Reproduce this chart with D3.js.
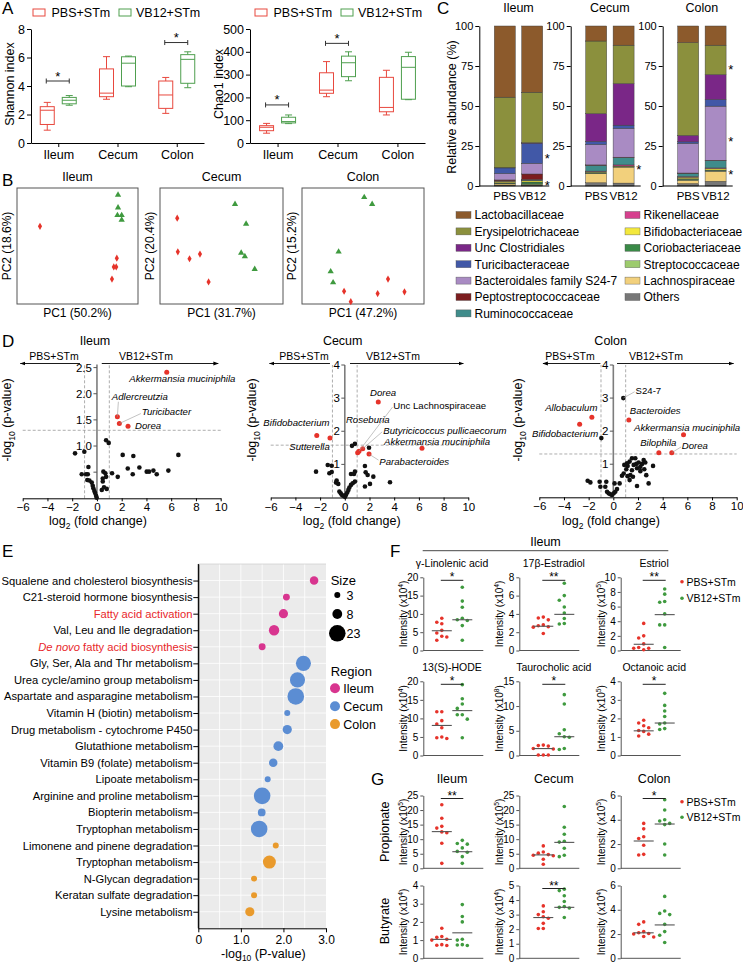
<!DOCTYPE html>
<html><head><meta charset="utf-8">
<script src="https://cdnjs.cloudflare.com/ajax/libs/d3/7.8.5/d3.min.js"></script>
<style>html,body{margin:0;padding:0;background:#fff;} svg{display:block;}</style>
</head><body>
<svg id="fig" width="743" height="964" xmlns="http://www.w3.org/2000/svg"></svg>
<script>
const FONT = '"Liberation Sans", Arial, Helvetica, sans-serif';
// ================= DATA =================
// ---- A: alpha diversity, box stats [min, q1, median, q3, max]
const regions = ["Ileum", "Cecum", "Colon"];
const groupNames = ["PBS+STm", "VB12+STm"];
const shannonPBS  = [[0.9,1.3,2.3,2.55,2.85],[3.07,3.25,3.5,5.2,6.06],[2.08,2.43,3.37,4.35,4.6]];
const shannonVB12 = [[2.65,2.75,3.0,3.2,3.33],[3.95,4.0,5.6,6.05,6.1],[3.88,4.19,5.87,6.2,6.4]];
const shannonTicks = [0,2,4,6,8];
const shannonSig = [["Ileum",4.35],["Colon",7.05]];
const chaoPBS  = [[43,54,69,76,86],[203,218,232,308,357],[123,137,156,288,319]];
const chaoVB12 = [[85,88,94,113,123],[273,291,352,381,400],[190,192,332,379,398]];
const chaoTicks = [0,100,200,300,400,500];
const chaoSig = [["Ileum",167],["Cecum",437]];

// ---- B: PCA scores [PC1, PC2]
const pcaTitles = ["Ileum","Cecum","Colon"];
const pcaPC1 = ["PC1 (50.2%)","PC1 (31.7%)","PC1 (47.2%)"];
const pcaPC2 = ["PC2 (18.6%)","PC2 (20.4%)","PC2 (15.2%)"];
const pcaIleumPBS  = [[-0.62,0.34],[0.65,-0.21],[0.60,-0.36],[0.64,-0.36],[0.57,-0.57]];
const pcaIleumVB12 = [[0.67,0.88],[0.67,0.66],[0.66,0.53],[0.73,0.53],[0.73,0.45]];
const pcaCecumPBS  = [[-0.72,0.48],[-0.71,-0.10],[-0.52,-0.22],[-0.35,-0.14],[-0.21,-0.62]];
const pcaCecumVB12 = [[0.22,0.72],[0.40,0.38],[0.32,-0.12],[0.38,-0.18],[0.54,-0.40]];
const pcaColonPBS  = [[0.41,-0.57],[0.68,-0.79],[0.24,-0.82],[-0.31,-0.78],[-0.20,-0.96]];
const pcaColonVB12 = [[0.02,0.84],[0.15,0.72],[-0.40,-0.10],[-0.53,-0.44],[-0.49,-0.63]];

// ---- C: relative abundance (%), families in legend order
const families = ["Lactobacillaceae","Erysipelotrichaceae","Unc Clostridiales","Turicibacteraceae",
  "Bacteroidales family S24-7","Peptostreptococcaceae","Ruminococcaceae","Rikenellaceae",
  "Bifidobacteriaceae","Coriobacteriaceae","Streptococcaceae","Lachnospiraceae","Others"];
const familyColors = ["#8c5a2c","#8b903d","#7a2787","#4158a7","#a98bc3","#7c1d1f","#3f8c8b",
  "#d6408e","#f3e83c","#3a8a47","#9dcb6d","#f2d07c","#777777"];
const abIleumPBS  = [44.5,44,0.2,3.5,4.0,0.5,0.2,0.1,1.0,0.4,0.3,0.8,0.5];
const abIleumVB12 = [41.4,31.6,0.3,12.5,6.7,3.5,0.5,0.2,0.8,1.2,0.5,0.3,0.5];
const abCecumPBS  = [9.4,45.4,17.3,2,12.7,0.3,3.6,0.3,0.5,0.5,0.3,5.7,2];
const abCecumVB12 = [12,24,26,2,18,0.3,4.5,0.7,0.3,0.2,0.2,10,1.8];
const abColonPBS  = [10.4,58,4,1,18.5,0.2,2,0.4,1,0.5,0.5,2,1.5];
const abColonVB12 = [12,18.4,15.5,4.2,33.8,0.3,4.5,0.3,1,0.3,0.5,6.3,2.9];
const abStarsIleum = [19, 2.5], abStarsCecum = [12.5], abStarsColon = [75, 30, 9];
const abTicks = [0,25,50,75,100];

// ---- D: volcano [log2FC, -log10 p]
const ileumNS = [[-1.77,0.86],[-1.02,0.89],[-0.69,0.60],[-1.23,0.46],[-0.88,0.46],[-0.74,0.46],[-0.78,0.35],[-0.61,0.34],[-0.42,0.30],[-0.34,0.24],[-0.29,0.19],[-0.21,0.14],[-0.15,0.10],[-0.07,0.05],[-0.02,0.01],[0.74,1.11],[0.95,1.06],[0.52,0.51],[0.68,0.48],[0.74,0.41],[0.47,0.38],[0.47,0.32],[0.39,0.16],[0.57,0.21],[0.79,0.18],[1.22,0.48],[1.68,0.41],[2.08,0.83],[2.49,0.57],[2.94,0.81],[3.43,0.59],[2.89,0.46],[4.02,0.51],[4.21,0.51],[4.56,0.53],[4.83,0.46],[5.77,0.53],[6.58,0.83]];
const ileumSig = [["Akkermansia muciniphila",5.64,2.41],["Adlercreutzia",1.65,1.56],["Turicibacter",1.81,1.43],["Dorea",2.51,1.38]];
const cecumNS = [[-2.33,0.78],[-1.38,0.98],[-1.06,0.96],[-1.25,0.73],[-1.06,0.77],[-0.66,0.51],[-0.53,0.41],[-0.71,0.45],[-0.44,0.18],[-0.33,0.13],[-0.25,0.08],[-0.12,0.05],[0.02,0.02],[0.10,0.08],[0.20,0.15],[0.29,0.23],[0.37,0.30],[0.50,0.38],[0.64,0.43],[0.82,0.48],[0.50,0.71],[0.74,0.71],[0.82,0.78],[0.58,1.56],[0.82,1.62],[1.96,1.50],[1.63,0.95],[1.69,0.76],[1.85,0.68],[2.31,0.63],[2.04,0.41],[1.63,0.33],[3.66,0.46]];
const cecumSig = [["Dorea",2.71,2.88],["Unc Lachnospiraceae",1.15,1.40],["Roseburia",1.04,1.35],["Butyricicoccus pullicaecorum",1.45,1.47],["Akkermansia muciniphila",6.25,1.49],["Bifidobacterium",-2.27,1.87],["Sutterella",-1.20,1.80],["Parabacteroides",1.96,1.31]];
const colonNS = [[-0.97,1.79],[-2.08,0.50],[-1.86,0.45],[-1.11,0.47],[-0.57,0.47],[-1.05,0.32],[-0.65,0.32],[-0.51,0.17],[-0.38,0.12],[-0.24,0.09],[-0.11,0.07],[0.03,0.12],[0.16,0.17],[0.30,0.25],[0.10,0.42],[0.51,0.42],[0.70,0.65],[0.84,0.72],[1.05,0.85],[1.16,0.95],[1.32,1.08],[1.51,1.18],[1.16,0.64],[1.38,0.67],[1.32,0.52],[1.51,0.82],[1.65,0.98],[1.86,1.01],[2.05,1.05],[1.92,0.88],[2.19,0.92],[2.33,1.01],[2.46,1.13],[2.59,1.05],[2.19,0.79],[2.51,0.85],[2.67,0.67],[2.86,0.42],[3.22,0.95],[1.92,0.34],[1.59,0.62],[1.11,1.03],[1.78,1.18],[0.89,0.98]];
const colonSig = [["Allobaculum",-1.74,2.42],["Bifidobacterium",-2.73,2.21],["Bacteroides",1.26,2.34],["Akkermansia muciniphila",5.69,1.89],["Bilophila",3.69,1.35],["Dorea",4.74,1.35]];
const colonNamedNS = [["S24-7",0.81,3.00]];
const volcanoXTicks = [-6,-4,-2,0,2,4,6,8,10];

// ---- E: pathway enrichment
const pathways = ["Squalene and cholesterol biosynthesis","C21-steroid hormone biosynthesis","Fatty acid activation",
  "Val, Leu and Ile degradation","De novo fatty acid biosynthesis","Gly, Ser, Ala and Thr metabolism",
  "Urea cycle/amino group metabolism","Aspartate and asparagine metabolism","Vitamin H (biotin) metabolism",
  "Drug metabolism - cytochrome P450","Glutathione metabolism","Vitamin B9 (folate) metabolism","Lipoate metabolism",
  "Arginine and proline metabolism","Biopterin metabolism","Tryptophan metabolism","Limonene and pinene degradation",
  "Tryptophan metabolism","N-Glycan degradation","Keratan sulfate degradation","Lysine metabolism"];
const pathRegion = ["Ileum","Ileum","Ileum","Ileum","Ileum","Cecum","Cecum","Cecum","Cecum","Cecum","Cecum","Cecum","Cecum","Cecum","Cecum","Cecum","Colon","Colon","Colon","Colon","Colon"];
const pathLogP = [2.72,2.07,2.0,1.78,1.50,2.47,2.33,2.29,2.09,2.09,1.88,1.76,1.63,1.50,1.49,1.43,1.82,1.67,1.31,1.31,1.21];
const pathSize = [6,4,7,9,4,19,19,23,3,7,8,6,3,23,5,23,3,14,3,3,7];
const pathHighlight = [2,4];
const sizeLegend = [3,8,23];
const regionColors = {Ileum:"#d8358f", Cecum:"#5b8dd3", Colon:"#e99a2c"};
const eTicks = [0,1,2,3];

// ---- F / G: metabolite intensities (per mouse), centre line values
const glaPBS=[8.8,7.7,7.3,5.5,4.8,3.9,3.7,2.8], glaVB12=[17.3,13.5,11.8,8.8,8.4,8.2,6.8,2.8], glaCtr=[5.4,8.4];
const e2PBS=[3.65,3.55,3.35,2.8,2.7,2.6,2.55,1.85], e2VB12=[7.35,6.0,5.5,4.75,4.1,3.5,2.95,2.9], e2Ctr=[2.65,3.95];
const e3PBS=[3.7,2.0,1.7,0.9,0.4,0.3,0.3,0.1], e3VB12=[8.4,7.7,6.7,6.6,5.0,3.5,3.5,0.4], e3Ctr=[0.85,4.9];
const hodePBS=[11.8,11.8,9.4,8.5,7.5,5.0,4.8,4.6], hodeVB12=[19.1,15.3,13.9,12.7,11.0,11.0,9.8,4.8], hodeCtr=[8.1,12.1];
const tcaPBS=[2.1,2.0,1.9,1.4,1.3,0.1,0.1,0.1], tcaVB12=[12.3,10.4,5.2,4.4,3.8,3.7,1.4,1.2], tcaCtr=[1.4,3.8];
const octPBS=[1.9,1.75,1.6,1.5,1.35,1.3,1.15,1.05], octVB12=[3.35,2.7,2.4,2.1,1.75,1.7,1.45,1.4], octCtr=[1.33,1.75];
const propIlPBS=[21.8,17.2,14.4,13.8,12.5,12.2,8.6,1.7], propIlVB12=[9.6,8.5,8.3,7.0,5.8,5.5,4.0,1.7], propIlCtr=[12.6,5.7];
const propCePBS=[7.7,5.6,5.2,4.7,4.5,4.3,3.1,1.4], propCeVB12=[21.2,14.1,11.7,9.3,9.0,6.9,4.5,4.0], propCeCtr=[4.6,8.9];
const propCoPBS=[3.7,3.25,2.6,2.45,1.9,1.15,1.1], propCoVB12=[5.65,4.8,4.0,3.9,3.7,3.6,2.0,1.1], propCoCtr=[2.25,3.65];
const butIlPBS=[1.65,1.2,1.15,1.05,1.0,0.75,0.72,0.7], butIlVB12=[2.95,2.3,2.0,1.05,1.0,0.75,0.73,0.7], butIlCtr=[1.04,1.4];
const butCePBS=[3.6,3.2,3.0,2.85,2.75,2.4,2.05,2.05], butCeVB12=[4.75,4.65,4.3,3.9,3.55,3.5,3.45,2.8], butCeCtr=[2.8,3.5];
const butCoPBS=[3.0,2.8,2.2,2.1,2.05,2.0,1.8,1.75], butCoVB12=[5.1,3.9,3.7,3.6,2.8,2.2,1.9,1.3], butCoCtr=[2.1,2.75];

// ================= DRAW =================
const svg = d3.select("#fig");
const RED_A="#e8483e", GREEN_A="#4f9f4f", RED="#e6332a", GREEN="#3f9a3f";

function txt(x,y,s,o={}){
  const t=svg.append("text").attr("x",x).attr("y",y).attr("font-family",FONT)
    .attr("font-size",o.size||12).attr("fill",o.fill||"#000").attr("text-anchor",o.anchor||"start").text(s);
  if(o.italic) t.attr("font-style","italic");
  if(o.rotate) t.attr("transform",`rotate(-90,${x},${y})`);
  return t;
}
function rtxt(cx,cy,parts,size){
  const t=svg.append("text").attr("transform",`translate(${cx+size*0.35},${cy}) rotate(-90)`)
    .attr("text-anchor","middle").attr("font-family",FONT).attr("font-size",size);
  addParts(t,parts,size); return t;
}
function addParts(t,parts,size){
  let shift=0;
  parts.forEach(([s,k])=>{
    const sp=t.append("tspan").text(s);
    let want = k==="sub"? size*0.3 : k==="sup"? -size*0.4 : 0;
    if(want!==shift){ sp.attr("dy",want-shift); shift=want; }
    if(k==="sub"||k==="sup") sp.attr("font-size",size*0.68);
  });
}
function fixAxis(g,fs,col){
  g.attr("font-family",FONT).attr("font-size",fs);
  g.select(".domain").attr("stroke",col||"#000");
  g.selectAll(".tick line").attr("stroke",col||"#000");
  g.selectAll(".tick text").attr("fill","#000");
  return g;
}
function line(x1,y1,x2,y2,col,w,dash){
  const l=svg.append("line").attr("x1",x1).attr("y1",y1).attr("x2",x2).attr("y2",y2)
    .attr("stroke",col||"#000").attr("stroke-width",w||1);
  if(dash) l.attr("stroke-dasharray",dash);
  return l;
}

// panel letters
[["A",2,14],["B",2,186],["C",437,14],["D",2,347],["E",2,557],["F",390,557],["G",371,785]]
  .forEach(([l,x,y])=>txt(x,y,l,{size:17}));

// ---------- Panel A ----------
function boxPanel(cfg){
  const x=d3.scalePoint().domain(regions).range([cfg.x0,cfg.x1]).padding(0.46);
  const y=d3.scaleLinear().domain([0,d3.max(cfg.ticks)]).range([143,29]);
  fixAxis(svg.append("g").attr("transform",`translate(${cfg.x0},0)`)
    .call(d3.axisLeft(y).tickValues(cfg.ticks).tickFormat(d3.format("d")).tickSize(4).tickSizeOuter(0).tickPadding(2)),12.5);
  fixAxis(svg.append("g").attr("transform","translate(0,143)")
    .call(d3.axisBottom(x).tickSize(4).tickSizeOuter(0).tickPadding(3)),12.5);
  [[cfg.pbs,-11,RED_A],[cfg.vb,11,GREEN_A]].forEach(([arr,off,col])=>{
    arr.forEach((s,i)=>{
      const cx=x(regions[i])+off, w=14;
      const g=svg.append("g").attr("stroke",col).attr("fill","none").attr("stroke-width",1);
      g.append("rect").attr("x",cx-w/2).attr("y",y(s[3])).attr("width",w).attr("height",y(s[1])-y(s[3]));
      g.append("line").attr("x1",cx-w/2).attr("x2",cx+w/2).attr("y1",y(s[2])).attr("y2",y(s[2]));
      g.append("line").attr("x1",cx).attr("x2",cx).attr("y1",y(s[3])).attr("y2",y(s[4]));
      g.append("line").attr("x1",cx).attr("x2",cx).attr("y1",y(s[1])).attr("y2",y(s[0]));
      [s[0],s[4]].forEach(v=>g.append("line").attr("x1",cx-3.5).attr("x2",cx+3.5).attr("y1",y(v)).attr("y2",y(v)));
    });
  });
  cfg.sig.forEach(([r,v])=>{
    const cx=x(r), yy=y(v);
    line(cx-12,yy,cx+11,yy,"#333",1); line(cx-12,yy-2.5,cx-12,yy+2.5,"#333",1); line(cx+11,yy-2.5,cx+11,yy+2.5,"#333",1);
    txt(cx-0.5,yy-0.5,"*",{anchor:"middle",size:13});
  });
  rtxt(cfg.labX,84,[[cfg.label,""]],12.5);
  const lx=cfg.legX, ly=12.5;
  svg.append("rect").attr("x",lx).attr("y",ly-3.5).attr("width",12).attr("height",7).attr("fill","none").attr("stroke",RED_A);
  txt(lx+18.5,ly+4.5,groupNames[0],{size:12.5});
  svg.append("rect").attr("x",lx+86).attr("y",ly-3.5).attr("width",12).attr("height",7).attr("fill","none").attr("stroke",GREEN_A);
  txt(lx+103,ly+4.5,groupNames[1],{size:12.5});
}
boxPanel({x0:31,x1:204,ticks:shannonTicks,pbs:shannonPBS,vb:shannonVB12,sig:shannonSig,label:"Shannon index",labX:9.5,legX:33});
boxPanel({x0:250,x1:425,ticks:chaoTicks,pbs:chaoPBS,vb:chaoVB12,sig:chaoSig,label:"Chao1 index",labX:218.5,legX:255});

// ---------- Panel B ----------
const pcaBoxes=[[17,138],[160,283],[302,424]];
const pcaSets=[[pcaIleumPBS,pcaIleumVB12],[pcaCecumPBS,pcaCecumVB12],[pcaColonPBS,pcaColonVB12]];
pcaBoxes.forEach(([x0,x1],i)=>{
  const x=d3.scaleLinear().domain([-1,1]).range([x0,x1]);
  const y=d3.scaleLinear().domain([-1,1]).range([304,188]);
  svg.append("rect").attr("x",x0).attr("y",188).attr("width",x1-x0).attr("height",116)
    .attr("fill","none").attr("stroke","#555").attr("stroke-width",1);
  pcaSets[i][0].forEach(([a,b])=>svg.append("path").attr("d",d3.symbol(d3.symbolDiamond,15)())
    .attr("transform",`translate(${x(a)},${y(b)})`).attr("fill",RED));
  pcaSets[i][1].forEach(([a,b])=>svg.append("path").attr("d",d3.symbol(d3.symbolTriangle,17)())
    .attr("transform",`translate(${x(a)},${y(b)})`).attr("fill",GREEN));
  txt((x0+x1)/2,181,pcaTitles[i],{anchor:"middle",size:12.5});
  txt((x0+x1)/2,317,pcaPC1[i],{anchor:"middle",size:12});
  rtxt(x0-10.5,246,[[pcaPC2[i],""]],12);
});

// ---------- Panel C ----------
const yC=d3.scaleLinear().domain([0,100]).range([186,26]);
const stackOrder=d3.range(families.length).reverse();
[["Ileum",479.3,abIleumPBS,abIleumVB12,abStarsIleum],["Cecum",570.7,abCecumPBS,abCecumVB12,abStarsCecum],
 ["Colon",662.7,abColonPBS,abColonVB12,abStarsColon]].forEach(([name,ax,pbs,vb,stars])=>{
  fixAxis(svg.append("g").attr("transform",`translate(${ax},0)`)
    .call(d3.axisLeft(yC).tickValues(abTicks).tickSize(4).tickSizeOuter(0).tickPadding(2)),11);
  const xb=d3.scaleBand().domain(["PBS","VB12"]).range([ax+8,ax+70.4]).paddingInner(0.234).paddingOuter(0.256);
  [["PBS",pbs],["VB12",vb]].forEach(([k,arr])=>{
    let cum=0;
    stackOrder.forEach(fi=>{
      const y0=cum; cum+=arr[fi];
      svg.append("rect").attr("x",xb(k)).attr("width",xb.bandwidth()).attr("y",yC(cum)).attr("height",yC(y0)-yC(cum))
        .attr("fill",familyColors[fi]).attr("stroke","#3a3a3a").attr("stroke-width",0.45);
    });
    txt(xb(k)+xb.bandwidth()/2,200,k,{anchor:"middle",size:11.5});
  });
  line(ax,186,ax+70,186,"#000",1);
  stars.forEach(v=>txt(ax+68,yC(v)+7.5,"*",{anchor:"middle",size:13}));
  txt(xb("PBS")+ (xb("VB12")+xb.bandwidth()-xb("PBS"))/2,11.5,name,{anchor:"middle",size:12.5});
});
rtxt(451.5,107,[["Relative abundance (%)",""]],12.5);
families.forEach((f,i)=>{
  const col=i<7?0:1, row=i<7?i:i-7;
  const sx=col?625:456, sy=215+row*16.4;
  svg.append("rect").attr("x",sx).attr("y",sy-3.5).attr("width",15).attr("height",7)
    .attr("fill",familyColors[i]).attr("stroke","#555").attr("stroke-width",0.4);
  txt(sx+18.5,sy+4.3,f,{size:12});
});

// ---------- Panel D ----------
svg.append("defs").append("marker").attr("id","arr").attr("viewBox","0 0 10 10").attr("refX",9).attr("refY",5)
  .attr("markerWidth",6).attr("markerHeight",6).attr("orient","auto-start-reverse")
  .append("path").attr("d","M0,1.5 L10,5 L0,8.5 Z").attr("fill","#000");
function volcano(c){
  const x=d3.scaleLinear().domain([-6,10]).range([c.x0,c.x1]);
  const y=d3.scaleLinear().domain([0,c.ymax]).range([c.yb,c.yt]);
  [-1,1].forEach(v=>line(x(v),y(0),x(v),y(c.ytop),"#8a8a8a",0.7,"3,2"));
  line(x(-6),y(c.thr),x(10),y(c.thr),"#8a8a8a",0.7,"3,2");
  fixAxis(svg.append("g").attr("transform",`translate(0,${y(0)})`)
    .call(d3.axisBottom(x).tickValues(volcanoXTicks).tickSize(3).tickSizeOuter(0).tickPadding(2)),11.5);
  line(x(0),y(0),x(0),y(c.ytop),"#7d7d7d",1.6);
  c.yticks.forEach(([v,lab])=>{
    line(x(0)-3.5,y(v),x(0),y(v),"#555",1);
    if(lab) txt(x(0)-5,y(v)+4,lab,{anchor:"end",size:11.5});
  });
  const ay=363.5;
  svg.append("line").attr("x1",x(c.arrL[0])).attr("x2",x(c.arrL[1])).attr("y1",ay).attr("y2",ay)
    .attr("stroke","#000").attr("stroke-width",0.9).attr("marker-end","url(#arr)");
  svg.append("line").attr("x1",x(c.arrR[0])).attr("x2",x(c.arrR[1])).attr("y1",ay).attr("y2",ay)
    .attr("stroke","#000").attr("stroke-width",0.9).attr("marker-end","url(#arr)");
  txt(c.txL,359.5,groupNames[0],{anchor:"middle",size:10.5});
  txt(c.txR,359.5,groupNames[1],{anchor:"middle",size:10.5});
  txt(c.titleX,345,c.title,{anchor:"middle",size:12.5});
  const xl=svg.append("text").attr("x",c.xlabX).attr("y",525).attr("text-anchor","middle").attr("font-family",FONT).attr("font-size",12.5);
  addParts(xl,[["log",""],["2","sub"],[" (fold change)",""]],12.5);
  rtxt(c.ylabX,420,[["-log",""],["10","sub"],[" (p-value)",""]],12.5);
  c.ns.forEach(([a,b])=>svg.append("circle").attr("cx",x(a)).attr("cy",y(b)).attr("r",2.3).attr("fill","#111"));
  (c.named||[]).forEach(([n,a,b])=>svg.append("circle").attr("cx",x(a)).attr("cy",y(b)).attr("r",2.3).attr("fill","#111"));
  c.sig.forEach(([n,a,b])=>svg.append("circle").attr("cx",x(a)).attr("cy",y(b)).attr("r",2.5).attr("fill",RED));
  const all=c.sig.concat(c.named||[]);
  all.forEach(([n,a,b])=>{
    const L=c.labels[n]; if(!L) return;
    const px=x(a), py=y(b);
    if(L.lead) line(px+L.lead[0],py+L.lead[1],px,py,"#9a9a9a",0.6);
    txt(px+L.d[0],py+L.d[1],n,{size:9.6,italic:!L.plain});
  });
}
volcano({x0:22.7,x1:220.7,yb:498.3,yt:367.6,ymax:2.5,ytop:2.56,thr:1.301,
  yticks:[[0.5,""],[1,"1.0"],[1.5,"1.5"],[2,"2.0"],[2.5,"2.5"]],
  arrL:[-1.37,-6.2],arrR:[0.39,9.8],txL:54,txR:146,title:"Ileum",titleX:95,xlabX:98,ylabX:6.5,
  ns:ileumNS,sig:ileumSig,
  labels:{"Akkermansia muciniphila":{d:[-37.4,9.7]},"Adlercreutzia":{d:[-5.6,-17.2],lead:[1,-15]},
          "Turicibacter":{d:[22.4,-8.3],lead:[21.5,-10]},"Dorea":{d:[7,3]}}});
volcano({x0:270.7,x1:468.3,yb:497.5,yt:365,ymax:4,ytop:4,thr:1.58,
  yticks:[[1,"1"],[2,"2"],[3,"3"],[4,"4"]],
  arrL:[-1.2,-6.1],arrR:[0.42,9.6],txL:304,txR:393,title:"Cecum",titleX:342.7,xlabX:351.7,ylabX:251.7,
  ns:cecumNS,sig:cecumSig,
  labels:{"Dorea":{d:[-8.3,-5.8]},"Unc Lachnospiraceae":{d:[34.3,-42.2],lead:[33.5,-44],plain:true},
          "Roseburia":{d:[-11.7,-29.7]},"Butyricicoccus pullicaecorum":{d:[20.6,-14.7],lead:[19.5,-17]},
          "Akkermansia muciniphila":{d:[-38,-3.3]},"Bifidobacterium":{d:[-53.4,-9.7]},
          "Sutterella":{d:[-40.7,12.5]},"Parabacteroides":{d:[10.3,10.5],lead:[9.5,6]}}});
volcano({x0:539.3,x1:736.7,yb:497.3,yt:365,ymax:4,ytop:4,thr:1.31,
  yticks:[[1,"1"],[2,"2"],[3,"3"],[4,"4"]],
  arrL:[-1.05,-5.7],arrR:[0.3,9.75],txL:570,txR:656,title:"Colon",titleX:610.7,xlabX:611,ylabX:518,
  ns:colonNS,sig:colonSig,named:colonNamedNS,
  labels:{"Allobaculum":{d:[-46.7,-6.3]},"Bifidobacterium":{d:[-47.6,12.7]},"Bacteroides":{d:[1,-5.5]},
          "Akkermansia muciniphila":{d:[-49.5,-3.7]},"Bilophila":{d:[-18.7,-6.7]},
          "Dorea":{d:[10,-3.7],lead:[9.3,-5.7]},"S24-7":{d:[12.3,-3.8],lead:[11.3,-6.3],plain:true}}});

// ---------- Panel E ----------
const xE=d3.scaleLinear().domain([0,3]).range([198.3,326]);
const yE=d3.scalePoint().domain(d3.range(pathways.length)).range([564,928.3]).padding(1);
const rE=d3.scaleSqrt().domain([0,23]).range([0,8.3]);
svg.append("rect").attr("x",198.3).attr("y",564).attr("width",326-198.3).attr("height",928.3-564).attr("fill","#ebebeb");
d3.range(0.5,3,0.5).forEach(v=>line(xE(v),564,xE(v),928.3,"#fff",0.8));
pathways.forEach((p,i)=>line(198.3,yE(i),326,yE(i),"#fff",0.8));
line(198.3,564,326,564,"#d0d0d0",0.8);
fixAxis(svg.append("g").attr("transform","translate(0,928.3)")
  .call(d3.axisBottom(xE).tickValues(eTicks).tickFormat(d=>d===0?"0":d3.format(".1f")(d)).tickSize(4).tickSizeOuter(0).tickPadding(3)),12);
fixAxis(svg.append("g").attr("transform","translate(198.3,0)")
  .call(d3.axisLeft(yE).tickFormat("").tickSize(5).tickSizeOuter(0)),11.2);
line(198.3,564,198.3,928.3,"#000",1);
pathways.forEach((p,i)=>{
  const hl=pathHighlight.includes(i);
  const t=svg.append("text").attr("x",192.5).attr("y",yE(i)+4).attr("text-anchor","end")
    .attr("font-family",FONT).attr("font-size",11.2).attr("fill",hl?"#e8262a":"#000");
  if(p.startsWith("De novo")){
    t.append("tspan").attr("font-style","italic").text("De novo");
    t.append("tspan").text(p.slice(7));
  } else t.text(p);
  svg.append("circle").attr("cx",xE(pathLogP[i])).attr("cy",yE(i)).attr("r",rE(pathSize[i])).attr("fill",regionColors[pathRegion[i]]);
});
const exl=svg.append("text").attr("x",263.3).attr("y",957.5).attr("text-anchor","middle").attr("font-family",FONT).attr("font-size",12.5);
addParts(exl,[["-log",""],["10","sub"],[" (P-value)",""]],12.5);
txt(330.7,585,"Size",{size:13});
sizeLegend.forEach((s,i)=>{
  const cy=[595,614,633.3][i];
  svg.append("circle").attr("cx",337.3).attr("cy",cy).attr("r",rE(s)).attr("fill","#000");
  txt(346.5,cy+4.5,String(s),{size:12.5});
});
txt(330.7,676,"Region",{size:13});
Object.keys(regionColors).forEach((r,i)=>{
  const cy=688.3+i*17.9;
  svg.append("circle").attr("cx",335).attr("cy",cy).attr("r",5).attr("fill",regionColors[r]);
  txt(343.3,cy+4.5,r,{size:12.5});
});

// ---------- Panels F & G ----------
const colX=[423.3,519.3,620.7], redOff=[18.5,24,23], greenOff=[39,45,44];
const fgRows=[[650.5,577.3],[755.5,681.3],[868.3,795.5],[958.3,885.5]];
function swarm(vals,cx,y,r){
  const placed=[];
  return vals.slice().sort((a,b)=>b-a).map(v=>{
    const py=y(v);
    const cands=[0,-1,1,-2,2,-3,3].map(k=>cx+k*(2*r+1.4));
    let px=cands[0];
    for(const c of cands){ if(placed.every(p=>Math.hypot(p[0]-c,p[1]-py)>=2*r+1.2)){px=c;break;} }
    placed.push([px,py]); return [px,py];
  });
}
function dotChart(ch){
  const x0=colX[ch.col], [yb,yt]=fgRows[ch.row];
  const y=d3.scaleLinear().domain([0,d3.max(ch.ticks)]).range([yb,yt]);
  fixAxis(svg.append("g").attr("transform",`translate(${x0},0)`)
    .call(d3.axisLeft(y).tickValues(ch.ticks).tickFormat(d3.format("d")).tickSize(3).tickSizeOuter(0).tickPadding(2)),10,"#555");
  line(x0,yb,x0+60,yb,"#555",1);
  const rx=x0+redOff[ch.col], gx=x0+greenOff[ch.col];
  [[ch.p,rx,RED,ch.c[0]],[ch.v,gx,GREEN,ch.c[1]]].forEach(([vals,cx,col,ctr])=>{
    swarm(vals,cx,y,1.8).forEach(([px,py])=>svg.append("circle").attr("cx",px).attr("cy",py).attr("r",1.8).attr("fill",col));
    line(cx-10,y(ctr),cx+10,y(ctr),"#555",1.1);
  });
  if(ch.s){
    const by=yt+3;
    line(rx-1,by,gx+1,by,"#222",1);
    txt((rx+gx)/2,by+1,ch.s,{anchor:"middle",size:12});
  }
  rtxt(x0-19.5,(yb+yt)/2,[["Intensity (x10",""],[String(ch.e),"sup"],[")",""]],10);
  if(ch.t) txt((rx+gx)/2,yt-10.5,ch.t,{anchor:"middle",size:10.5});
}
const fgCharts=[
 {t:"γ-Linolenic acid",p:glaPBS,v:glaVB12,c:glaCtr,ticks:[0,5,10,15,20],e:4,s:"*",col:0,row:0},
 {t:"17β-Estradiol",p:e2PBS,v:e2VB12,c:e2Ctr,ticks:[0,2,4,6,8],e:4,s:"**",col:1,row:0},
 {t:"Estriol",p:e3PBS,v:e3VB12,c:e3Ctr,ticks:[0,2,4,6,8,10],e:5,s:"**",col:2,row:0},
 {t:"13(S)-HODE",p:hodePBS,v:hodeVB12,c:hodeCtr,ticks:[0,5,10,15,20],e:4,s:"*",col:0,row:1},
 {t:"Taurocholic acid",p:tcaPBS,v:tcaVB12,c:tcaCtr,ticks:[0,5,10,15],e:8,s:"*",col:1,row:1},
 {t:"Octanoic acid",p:octPBS,v:octVB12,c:octCtr,ticks:[0,1,2,3,4],e:5,s:"*",col:2,row:1},
 {p:propIlPBS,v:propIlVB12,c:propIlCtr,ticks:[0,5,10,15,20,25],e:5,s:"**",col:0,row:2},
 {p:propCePBS,v:propCeVB12,c:propCeCtr,ticks:[0,5,10,15,20,25],e:5,s:"",col:1,row:2},
 {p:propCoPBS,v:propCoVB12,c:propCoCtr,ticks:[0,2,4,6],e:5,s:"*",col:2,row:2},
 {p:butIlPBS,v:butIlVB12,c:butIlCtr,ticks:[0,1,2,3,4],e:4,s:"",col:0,row:3},
 {p:butCePBS,v:butCeVB12,c:butCeCtr,ticks:[0,1,2,3,4,5],e:4,s:"**",col:1,row:3},
 {p:butCoPBS,v:butCoVB12,c:butCoCtr,ticks:[0,2,4,6],e:4,s:"",col:2,row:3}];
fgCharts.forEach(dotChart);
line(422.7,550.7,668.3,550.7,"#333",0.9);
txt(545.5,546,"Ileum",{anchor:"middle",size:12.5});
regions.forEach((r,i)=>txt(colX[i]+(redOff[i]+greenOff[i])/2,783,r,{anchor:"middle",size:12.5}));
rtxt(385,831.7,[["Propionate",""]],12.5);
rtxt(385,921,[["Butyrate",""]],12.5);
[[581.7,598.3],[801.7,817.3]].forEach(([a,b])=>{
  svg.append("circle").attr("cx",682).attr("cy",a).attr("r",1.8).attr("fill",RED);
  txt(686.5,a+3.8,groupNames[0],{size:10.5});
  svg.append("circle").attr("cx",682).attr("cy",b).attr("r",1.8).attr("fill",GREEN);
  txt(686.5,b+3.8,groupNames[1],{size:10.5});
});
</script>
</body></html>
